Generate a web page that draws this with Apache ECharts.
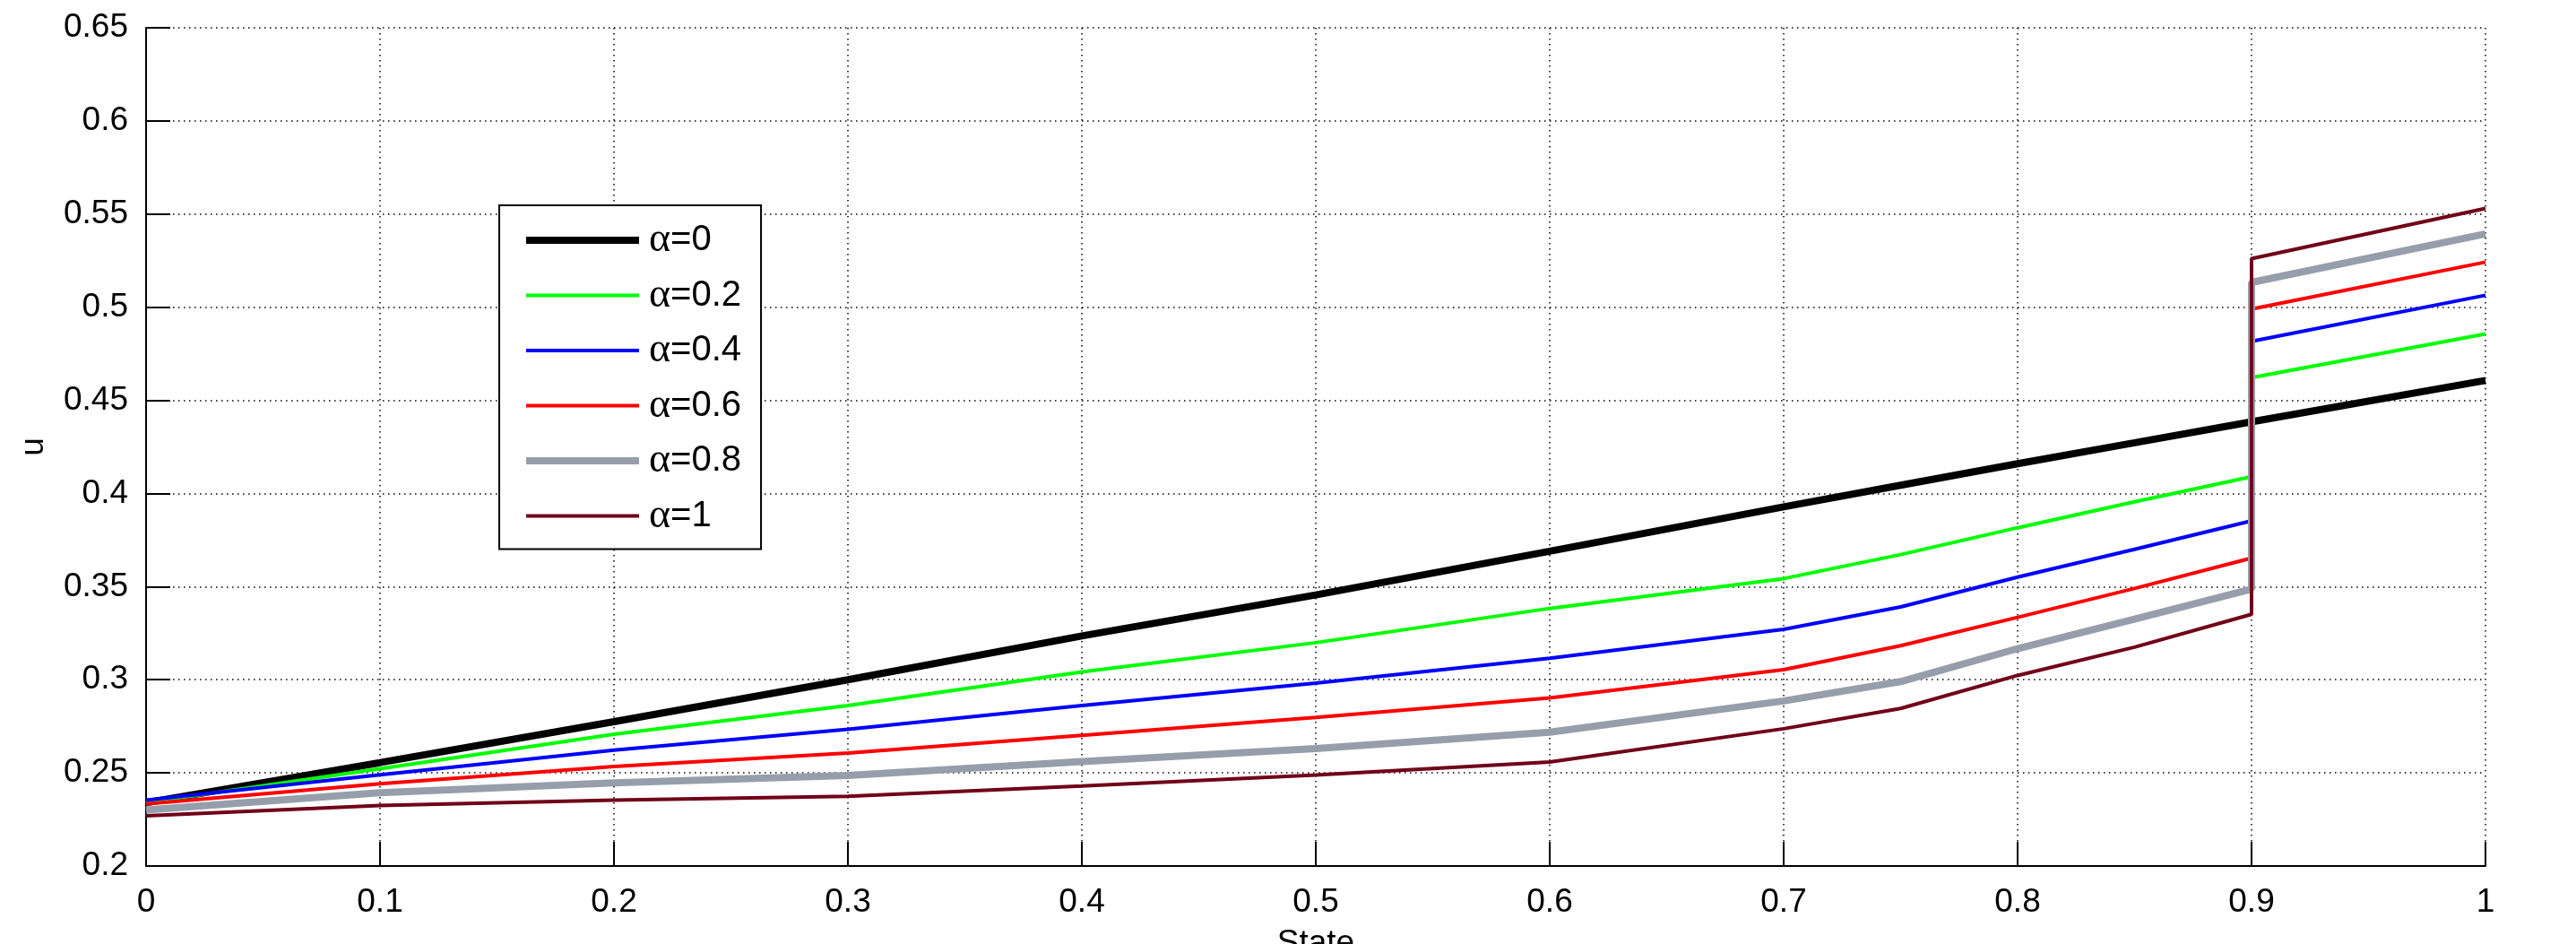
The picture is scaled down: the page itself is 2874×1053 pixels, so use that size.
<!DOCTYPE html>
<html>
<head>
<meta charset="utf-8">
<script src="https://cdn.jsdelivr.net/npm/echarts@6/dist/echarts.min.js"></script>
<style>
html,body{margin:0;padding:0;background:#fff;}
#chart{width:2874px;height:1053px;}
</style>
</head>
<body>
<div id="chart"></div>
<script>
// State values (x); 0.9 appears twice for the jump
const xValues = [0, 0.1, 0.2, 0.3, 0.4, 0.5, 0.6, 0.7, 0.75, 0.8, 0.85, 0.9, 0.9, 1];
const alpha0  = [0.234, 0.2555, 0.2775, 0.3000, 0.3235, 0.3455, 0.3690, 0.3928, 0.4044, 0.4160, 0.4272, 0.4385, 0.4385, 0.4607];
const alpha02 = [0.234, 0.2522, 0.2707, 0.2862, 0.3042, 0.3199, 0.3383, 0.3543, 0.3672, 0.3816, 0.3955, 0.4090, 0.4622, 0.4856];
const alpha04 = [0.2354, 0.2490, 0.2622, 0.2734, 0.2862, 0.2982, 0.3115, 0.3271, 0.3391, 0.3551, 0.3700, 0.3853, 0.4817, 0.5064];
const alpha06 = [0.2333, 0.2442, 0.2534, 0.2606, 0.2702, 0.2798, 0.2902, 0.3054, 0.3183, 0.3335, 0.3490, 0.3653, 0.4990, 0.5242];
const alpha08 = [0.2301, 0.2393, 0.2446, 0.2486, 0.2561, 0.2630, 0.2718, 0.2886, 0.2990, 0.3167, 0.3325, 0.3487, 0.5133, 0.5394];
const alpha1  = [0.2269, 0.2325, 0.2354, 0.2374, 0.2429, 0.2489, 0.2558, 0.2737, 0.2846, 0.3023, 0.3175, 0.3351, 0.5261, 0.5530];
const seriesNames = ['α=0', 'α=0.2', 'α=0.4', 'α=0.6', 'α=0.8', 'α=1'];
const xAxisName = 'State';
const yAxisName = 'u';

const allValues = [alpha0, alpha02, alpha04, alpha06, alpha08, alpha1];
const colors = ['#000000', '#00ff00', '#0000ff', '#ff0000', '#979eab', '#700018'];
const widths = [8, 4, 4, 4, 8, 4];

const FONT = 'Liberation Sans, Arial, sans-serif';
const chart = echarts.init(document.getElementById('chart'), null, {renderer: 'canvas'});

const series = allValues.map((vals, i) => ({
  name: seriesNames[i],
  type: 'line',
  symbol: 'none',
  animation: false,
  data: xValues.map((x, j) => [x, vals[j]]),
  lineStyle: {color: colors[i], width: widths[i]},
  itemStyle: {color: colors[i]},
  z: 2 + i
}));

const legendData = seriesNames.map((n, i) => ({
  name: n,
  itemStyle: {opacity: 0},
  lineStyle: {color: colors[i], width: widths[i]}
}));

const gridLine = {show: true, lineStyle: {color: '#000', width: 1.5, type: [1.5, 4.5]}};

chart.setOption({
  backgroundColor: '#ffffff',
  animation: false,
  grid: {left: 163, right: 101, top: 31, bottom: 87, containLabel: false, outerBoundsMode: 'none'},
  legend: {
    orient: 'vertical',
    left: 557,
    top: 229,
    data: legendData,
    itemWidth: 126,
    itemHeight: 40,
    itemGap: 15.5,
    padding: [16, 22, 14, 26],
    borderColor: '#000',
    borderWidth: 2,
    backgroundColor: '#fff',
    selectedMode: false,
    itemStyle: {opacity: 0},
    lineStyle: {width: 'inherit'},
    formatter: function (name) {
      return '{a|α}{b|' + name.slice(1) + '}';
    },
    textStyle: {
      color: '#000',
      fontFamily: FONT,
      fontSize: 40,
      lineHeight: 40,
      height: 40,
      rich: {
        a: {fontFamily: 'Liberation Serif, Times New Roman, serif', fontSize: 46, color: '#000', lineHeight: 40, height: 40, padding: [0, 0, 0, 6]},
        b: {fontFamily: FONT, fontSize: 40, color: '#000', lineHeight: 40, height: 40}
      }
    }
  },
  xAxis: {
    type: 'value',
    min: 0, max: 1, interval: 0.1,
    name: xAxisName,
    nameLocation: 'middle',
    nameGap: 68,
    nameTextStyle: {color: '#000', fontFamily: FONT, fontSize: 37},
    axisLine: {show: true, lineStyle: {color: '#000', width: 2}},
    axisTick: {show: true, inside: true, length: 27, lineStyle: {color: '#000', width: 2}},
    axisLabel: {color: '#000', fontFamily: FONT, fontSize: 37, margin: 22},
    splitLine: gridLine
  },
  yAxis: {
    type: 'value',
    min: 0.2, max: 0.65, interval: 0.05,
    name: yAxisName,
    nameLocation: 'middle',
    nameGap: 107,
    nameTextStyle: {color: '#000', fontFamily: FONT, fontSize: 37},
    axisLine: {show: true, lineStyle: {color: '#000', width: 2}},
    axisTick: {show: true, inside: true, length: 27, lineStyle: {color: '#000', width: 2}},
    axisLabel: {color: '#000', fontFamily: FONT, fontSize: 37, margin: 20},
    splitLine: gridLine
  },
  series: series
});
</script>
</body>
</html>
